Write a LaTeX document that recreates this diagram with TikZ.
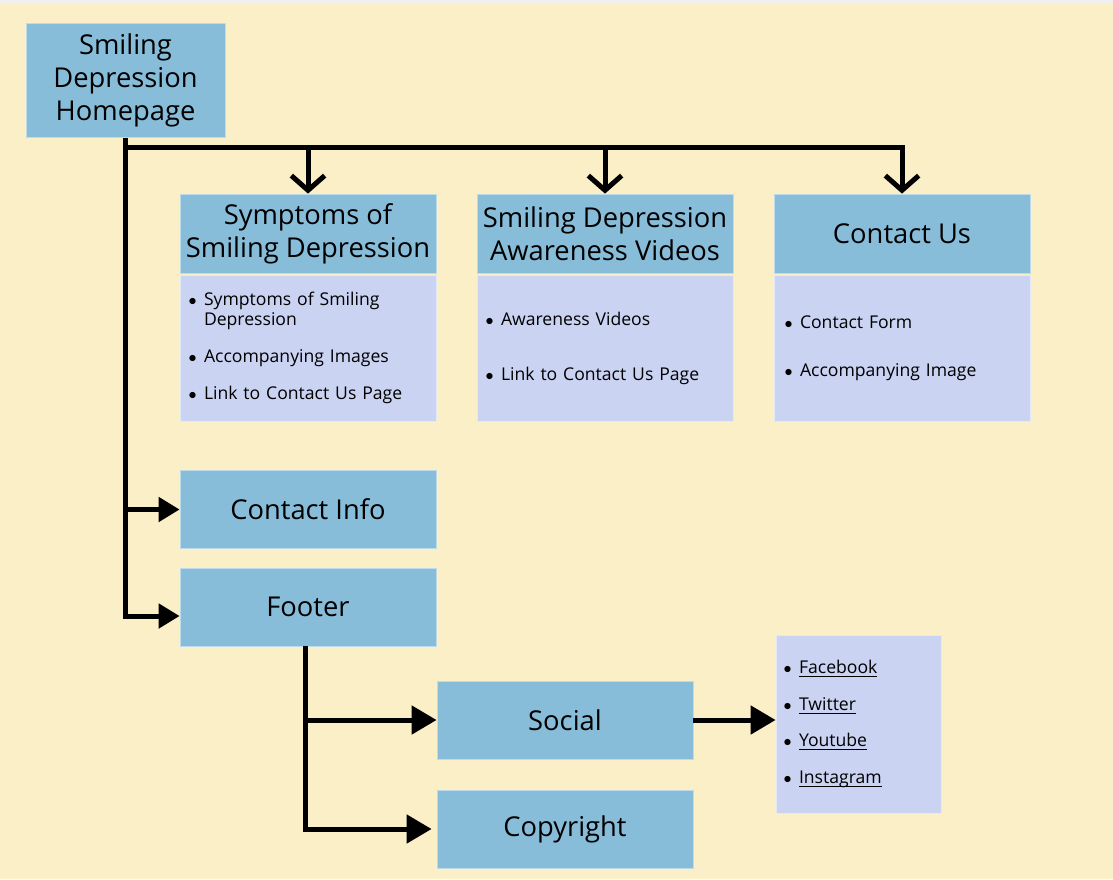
\documentclass[tikz,border=0pt]{standalone}
\usepackage{fontspec}
\setmainfont{Open Sans}
\usetikzlibrary{arrows.meta,positioning}
\definecolor{cream}{HTML}{FBEFC8}
\definecolor{hdrblue}{HTML}{88BDDA}
\definecolor{lavender}{HTML}{CAD3F2}
\newcommand{\bul}[1]{\makebox[9pt][l]{\hspace*{-2.5pt}$\bullet$}#1}
\newcommand{\lnk}[1]{\setbox0\hbox{#1}\rlap{\rule[-2.6pt]{\wd0}{0.8pt}}#1}
\newcommand{\bigtxt}{\fontsize{20.5pt}{24.75pt}\selectfont}
\newcommand{\smalltxt}{\fontsize{13.2pt}{15pt}\selectfont}

\begin{document}
\begin{tikzpicture}[x=0.75pt,y=-0.75pt,
  box/.style={rectangle,inner sep=0pt,minimum width=192pt,minimum height=58.5pt,
    fill=hdrblue,draw=hdrblue!55!white,line width=0.6pt,font=\bigtxt,align=center},
  listbox/.style={rectangle,inner xsep=9pt,inner ysep=0pt,text width=174pt,
    minimum height=109.5pt,fill=lavender,draw=lavender!50!white,line width=0.6pt,
    font=\smalltxt,align=left},
  wire/.style={line width=3.75pt,line join=miter},
  tri/.style={-{Triangle[length=15.75pt,width=18pt]}},
  bigtri/.style={-{Triangle[length=18.75pt,width=21pt]}},
  barb/.style={-{Straight Barb[length=11pt,width=25pt]}}]
\fill[cream] (0,0) rectangle (1113,879);
\fill[black!6] (0,0) rectangle (1113,3);
\useasboundingbox (0,0) rectangle (1113,879);

\node[box,minimum width=149.25pt,minimum height=85.5pt] (home) at (125.5,80.5) {Smiling\\Depression\\Homepage};

\node[box,minimum height=59.25pt] (symhead) at (308,233.5) {Symptoms of\\Smiling Depression};
\node[listbox] (symbody) at (308,348) {\bul{Symptoms of Smiling}\\\hspace*{9pt}Depression\\[12.75pt]\bul{Accompanying Images}\\[12.75pt]\bul{Link to Contact Us Page}};
\node[box,minimum height=59.25pt] (vidhead) at (605,233.5) {Smiling Depression\\Awareness Videos};
\node[listbox] (vidbody) at (605,348) {\bul{Awareness Videos}\\[26.25pt]\bul{Link to Contact Us Page}};
\node[box,minimum height=59.25pt] (conhead) at (902,233.5) {Contact Us};
\node[listbox,inner xsep=10.5pt,text width=171pt] (conbody) at (902,348) {\bul{Contact Form}\\[21pt]\bul{Accompanying Image}};

\node[box] (cinfo) at (308,509.5) {Contact Info};
\node[box] (footer) at (308,607) {Footer};
\node[box] (social) at (565,720) {Social};
\node[box] (copyright) at (565,829) {Copyright};
\node[listbox,inner xsep=8.25pt,text width=107.25pt,minimum height=133.5pt] (links) at (858.5,724) {\bul{\lnk{Facebook}}\\[12.5pt]\bul{\lnk{Twitter}}\\[12.5pt]\bul{\lnk{Youtube}}\\[12.5pt]\bul{\lnk{Instagram}}};

\coordinate (bus) at (126,147);
\draw[wire,tri] (home.south) |- ([yshift=-6.75pt]footer.west);
\draw[wire,tri] (home.south |- cinfo.west) -- (cinfo.west);
\draw[wire,barb] (home.south |- bus) -| (conhead.north);
\draw[wire,barb] (symhead.north |- bus) -- (symhead.north);
\draw[wire,barb] (vidhead.north |- bus) -- (vidhead.north);
\draw[wire,bigtri] ([xshift=-2.25pt]footer.south) |- (social.west);
\draw[wire,bigtri,shorten >=3.75pt] ([xshift=-2.25pt]footer.south) |- (copyright.west);
\draw[wire,bigtri] (social.east) -- (social.east -| links.west);
\end{tikzpicture}
\end{document}
